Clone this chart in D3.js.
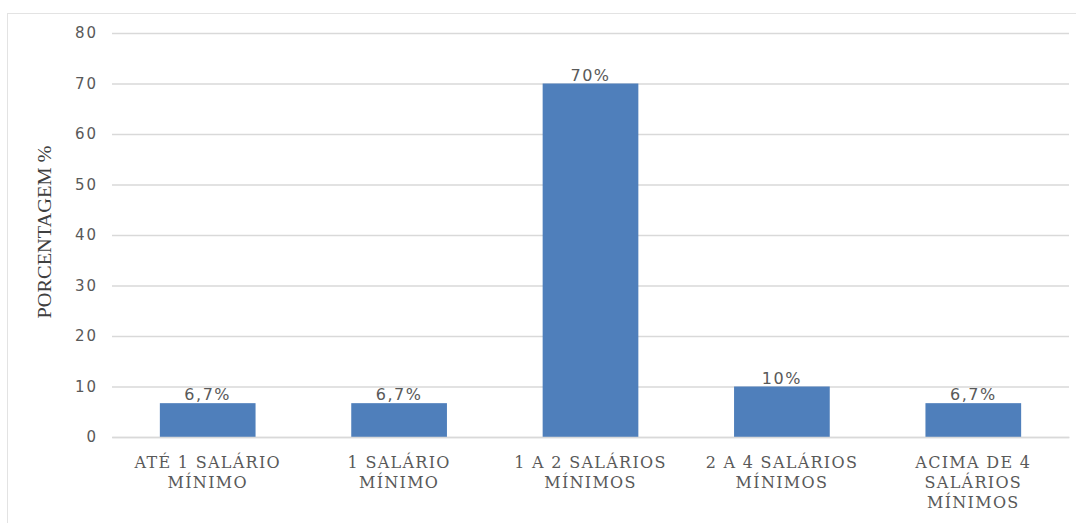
<!DOCTYPE html>
<html><head><meta charset="utf-8">
<script src="https://cdn.jsdelivr.net/npm/d3@7"></script>
<style>body{margin:0;background:#fff}svg{display:block}</style>
</head><body>
<script>
const categories = [
  ["ATÉ 1 SALÁRIO", "MÍNIMO"],
  ["1 SALÁRIO", "MÍNIMO"],
  ["1 A 2 SALÁRIOS", "MÍNIMOS"],
  ["2 A 4 SALÁRIOS", "MÍNIMOS"],
  ["ACIMA DE 4", "SALÁRIOS", "MÍNIMOS"]
];
const values = [6.7, 6.7, 70, 10, 6.7];
const valueLabels = ["6,7%", "6,7%", "70%", "10%", "6,7%"];
const yTicks = [0, 10, 20, 30, 40, 50, 60, 70, 80];
const yTitle = "PORCENTAGEM %";

const W = 1076, H = 523;
const m = {left: 112, right: 7, top: 33, bottom: 86};
const svg = d3.select("body").append("svg").attr("width", W).attr("height", H);

svg.append("rect").attr("x", 7.5).attr("y", 13.5).attr("width", W).attr("height", H)
  .attr("fill", "none").attr("stroke", "#e3e3e3");

const keys = categories.map((c, i) => i);
const x = d3.scaleBand().domain(keys).range([m.left, W - m.right]).paddingInner(0.5).paddingOuter(0.25);
const y = d3.scaleLinear().domain([0, 80]).range([H - m.bottom, m.top]);

const yAxis = d3.axisLeft(y).tickValues(yTicks).tickSize(-(W - m.right - m.left)).tickPadding(14);
const gy = svg.append("g").attr("transform", `translate(${m.left},0)`).call(yAxis);
gy.select(".domain").remove();
gy.selectAll(".tick line").attr("stroke", "#d9d9d9").attr("stroke-width", 1.3);
gy.selectAll(".tick text").attr("fill", "#595959").attr("font-family", "DejaVu Sans")
  .attr("font-size", 15).attr("letter-spacing", 2);

svg.append("g").selectAll("rect").data(values).join("rect")
  .attr("x", (d, i) => x(i)).attr("width", x.bandwidth())
  .attr("y", d => y(d)).attr("height", d => y(0) - y(d))
  .attr("fill", "#4f7fbb");

svg.append("g").selectAll("text").data(values).join("text")
  .attr("x", (d, i) => x(i) + x.bandwidth() / 2).attr("y", d => y(d) - 3)
  .attr("text-anchor", "middle").attr("fill", "#595959")
  .attr("font-family", "DejaVu Sans").attr("font-size", 16).attr("letter-spacing", 1.5)
  .text((d, i) => valueLabels[i]);

const gx = svg.append("g").attr("transform", `translate(0,${y(0)})`)
  .call(d3.axisBottom(x).tickSize(0).tickFormat(() => ""));
gx.select(".domain").attr("stroke", "#d9d9d9").attr("stroke-width", 1.3);
gx.selectAll(".tick").each(function(d) {
  const t = d3.select(this).append("text").attr("text-anchor", "middle")
    .attr("fill", "#595959").attr("font-family", "DejaVu Serif").attr("font-size", 16)
    .attr("letter-spacing", 1.3);
  categories[d].forEach((line, j) => {
    t.append("tspan").attr("x", 0).attr("y", 31 + j * 20).text(line);
  });
});

svg.append("text").attr("transform", `translate(51,${232}) rotate(-90)`)
  .attr("text-anchor", "middle").attr("fill", "#404040")
  .attr("font-family", "Liberation Serif").attr("font-size", 18)
  .attr("textLength", 173).attr("lengthAdjust", "spacingAndGlyphs")
  .text(yTitle);
</script>
</body></html>
